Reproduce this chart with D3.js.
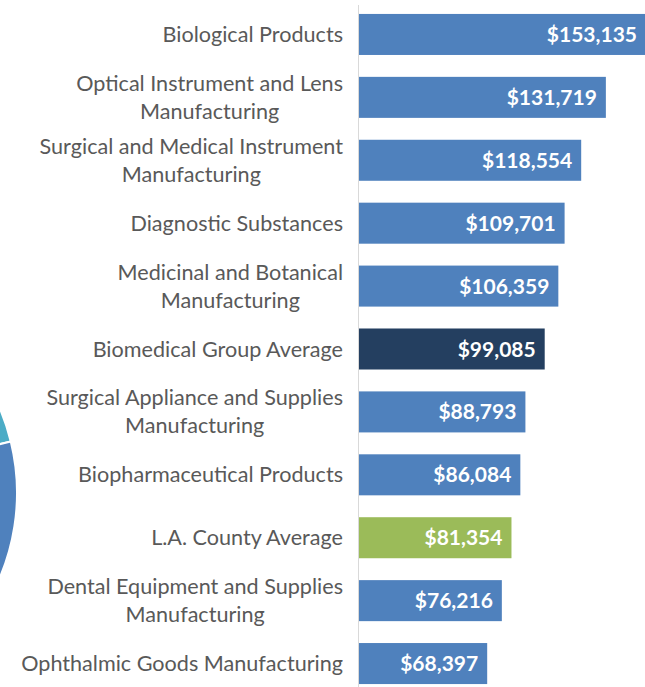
<!DOCTYPE html>
<html lang="en">

<head>
  <meta charset="UTF-8">
  <title>Biomedical wages</title>
  <script src="https://d3js.org/d3.v7.min.js"></script>
  <style>
    body {
      margin: 0;
      background: #fff;
    }

    .label {
      font-family: Lato, "Open Sans", sans-serif;
      font-size: 21.6px;
      fill: #595959;
    }

    .value {
      font-family: Lato, "Open Sans", sans-serif;
      font-size: 21px;
      font-weight: bold;
      fill: #fff;
    }
  </style>
</head>

<body>
  <div class="chartContainer"></div>

  <script>
    // categories top to bottom ("\n" = line break like the original)
    const categories = [
      "Biological Products",
      "Optical Instrument and Lens\nManufacturing",
      "Surgical and Medical Instrument\nManufacturing",
      "Diagnostic Substances",
      "Medicinal and Botanical\nManufacturing",
      "Biomedical Group Average",
      "Surgical Appliance and Supplies\nManufacturing",
      "Biopharmaceutical Products",
      "L.A. County Average",
      "Dental Equipment and Supplies\nManufacturing",
      "Ophthalmic Goods Manufacturing"
    ]
    const wages = [153135, 131719, 118554, 109701, 106359, 99085, 88793, 86084, 81354, 76216, 68397]
    const barColors = ["#4f81bd", "#4f81bd", "#4f81bd", "#4f81bd", "#4f81bd", "#243f60",
      "#4f81bd", "#4f81bd", "#9bbb59", "#4f81bd", "#4f81bd"]

    // leftover slice of the neighbouring pie chart (cut off at the left edge)
    const pieNames = ["teal", "other"]
    const pieValues = [21, 79]
    const pieColors = ["#4bacc6", "#4f81bd"]

    const width = 645, height = 687

    const svg = d3.select('.chartContainer')
      .append('svg')
      .attr('width', width)
      .attr('height', height)

    // pie remnant
    const pie = d3.pie().sort(null)
      .startAngle(1.33 - 2 * Math.PI * 0.21)
      .endAngle(1.33 + 2 * Math.PI * 0.79)
    const arc = d3.arc().innerRadius(0).outerRadius(216)
    svg.append('g')
      .attr('transform', 'translate(-199,493)')
      .selectAll('path')
      .data(pie(pieValues))
      .enter()
      .append('path')
      .attr('d', arc)
      .attr('fill', (d, i) => pieColors[i])
      .attr('stroke', '#fff')
      .attr('stroke-width', 2)

    const x = d3.scaleLinear()
      .domain([0, 153135])
      .range([359, 646])

    const y = d3.scaleBand()
      .domain(categories)
      .range([3, 695])
      .paddingInner(0.348)
      .paddingOuter(0.174)

    // bars
    svg.selectAll('rect.bar')
      .data(categories)
      .enter()
      .append('rect')
      .attr('class', 'bar')
      .attr('x', x(0))
      .attr('y', d => y(d))
      .attr('width', (d, i) => x(wages[i]) - x(0))
      .attr('height', y.bandwidth())
      .attr('fill', (d, i) => barColors[i])

    // axis line
    svg.append('line')
      .attr('x1', 358.5).attr('x2', 358.5)
      .attr('y1', 5).attr('y2', height)
      .attr('stroke', '#d9d9d9')
      .attr('stroke-width', 1)

    // value labels inside the bar end
    const fmt = d3.format(',')
    svg.selectAll('text.value')
      .data(categories)
      .enter()
      .append('text')
      .attr('class', 'value')
      .attr('x', (d, i) => x(wages[i]) - 9)
      .attr('y', d => y(d) + y.bandwidth() / 2)
      .attr('dy', '0.36em')
      .attr('text-anchor', 'end')
      .text((d, i) => '$' + fmt(wages[i]))

    // category labels, wrapped lines centred within a right aligned block
    const labelRight = 343
    const lineGap = 28
    categories.forEach(c => {
      const lines = c.split('\n')
      const g = svg.append('g')
      const cy = y(c) + y.bandwidth() / 2
      const texts = lines.map((ln, j) => g.append('text')
        .attr('class', 'label')
        .attr('y', cy + (j - (lines.length - 1) / 2) * lineGap)
        .attr('dy', '0.35em')
        .attr('text-anchor', 'middle')
        .text(ln))
      const maxW = d3.max(texts, t => t.node().getComputedTextLength())
      texts.forEach(t => t.attr('x', labelRight - maxW / 2))
    })
  </script>
</body>

</html>
